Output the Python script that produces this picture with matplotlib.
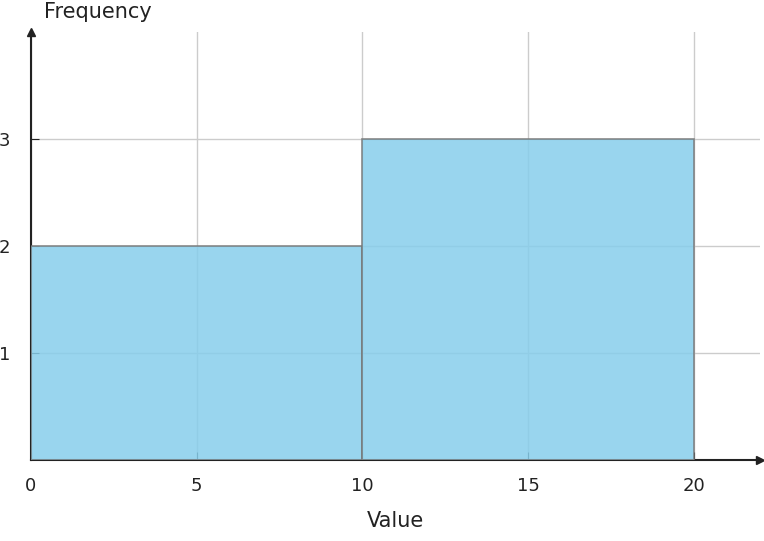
import matplotlib
matplotlib.use("Agg")
import matplotlib.pyplot as plt

bin_edges = [0, 10, 20]
counts = [2, 3]
xticks = [0, 5, 10, 15, 20]
yticks = [1, 2, 3]

fig = plt.figure(figsize=(7.64, 5.41), dpi=100)
ax = fig.add_axes([31/764, 81/541, 729/764, 428/541])
ax.set_xlim(0, 22)
ax.set_ylim(0, 4)
ax.set_axisbelow(True)
ax.grid(True, color="#cccccc", linewidth=1)
widths = [bin_edges[i+1]-bin_edges[i] for i in range(len(counts))]
ax.bar(bin_edges[:-1], counts, width=widths, align="edge", color="#87CEEB",
       alpha=0.85, edgecolor="#777777", linewidth=1.2, zorder=3)
for s in ["top", "right"]:
    ax.spines[s].set_visible(False)
for s in ["left", "bottom"]:
    ax.spines[s].set_color("#222222")
    ax.spines[s].set_linewidth(1.5)
ax.plot(1, 0, ">", color="#222222", transform=ax.transAxes, clip_on=False, markersize=6)
ax.plot(0, 1, "^", color="#222222", transform=ax.transAxes, clip_on=False, markersize=6)
ax.set_xticks(xticks)
ax.set_yticks(yticks)
ax.tick_params(direction="in", length=6, colors="#222222", labelsize=13, pad=12)
ax.tick_params(axis="y", pad=15)
ax.set_xlabel("Value", fontsize=15, color="#222222", labelpad=12)
fig.text(44/764, 1-12/541, "Frequency", fontsize=15, color="#222222", va="center", ha="left")
fig.savefig("out.png", dpi=100)
